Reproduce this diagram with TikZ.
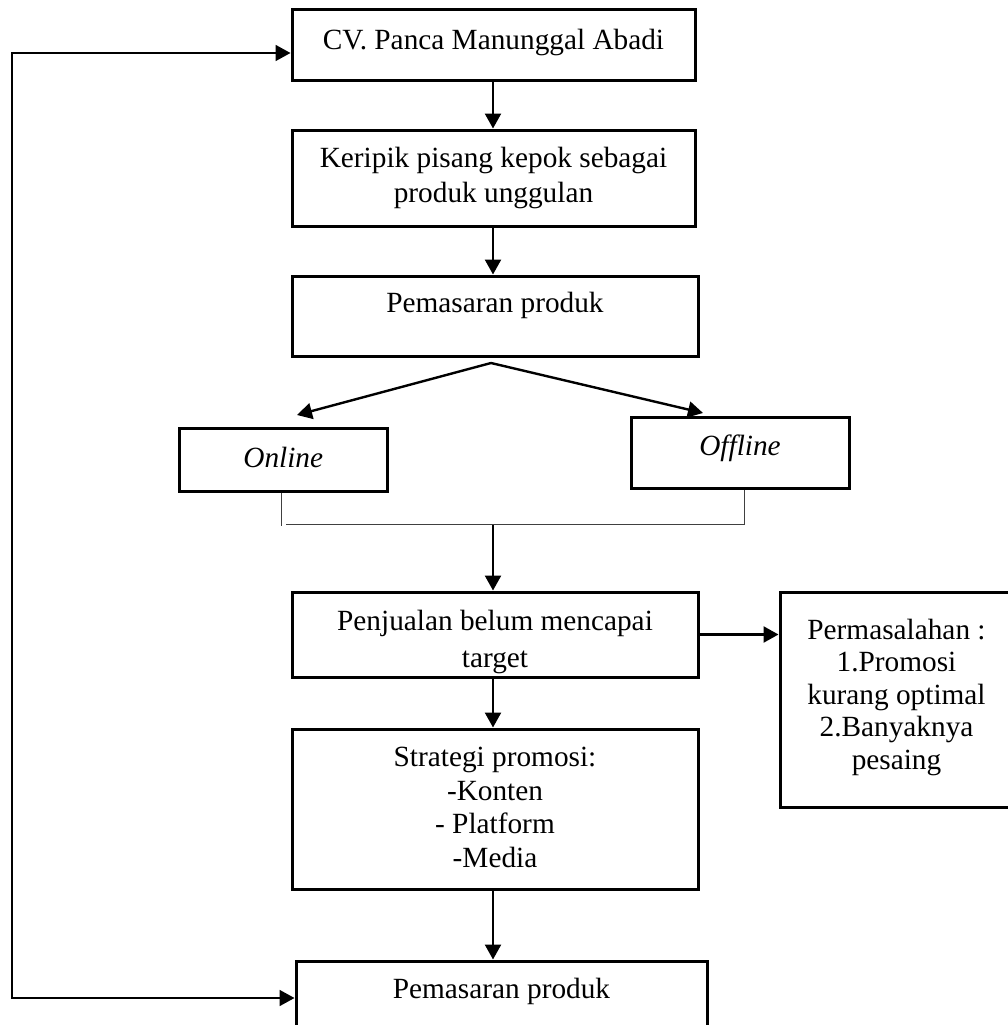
\documentclass[tikz,border=0pt]{standalone}
\usepackage{fontspec}
\setmainfont{Liberation Serif}
\usetikzlibrary{arrows.meta}

\begin{document}
\begin{tikzpicture}[x=1pt, y=-1pt,
  block/.style = {shape=rectangle, sharp corners,
    draw, line width=3pt, align=center, inner sep=0pt,
    font=\fontsize{29.3}{33.5}\selectfont},
  arrow/.style = {line width=2.4pt, -{Triangle[length=15pt,width=16pt]}},
  joint/.style = {line width=1pt, black!75}]
  \useasboundingbox (0,0) rectangle (1008,1025);
  % main column
  \node[block, minimum width=403pt, text height=39pt, text depth=31pt]
    (cv) at (493.5,45) {CV. Panca Manunggal Abadi};
  \node[block, minimum width=403pt, text height=72pt, text depth=24pt]
    (keripik) at (493.5,178) {Keripik pisang kepok sebagai\\[1.5pt]produk unggulan};
  \node[block, minimum width=406pt, text height=36pt, text depth=44pt]
    (pasar) at (495,316) {Pemasaran produk};
  \node[block, minimum width=208pt, text height=39pt, text depth=24pt]
    (online) at (283.25,459.5) {\itshape Online};
  \node[block, minimum width=218pt, text height=38pt, text depth=33pt]
    (offline) at (740,452.5) {\itshape Offline};
  \node[block, minimum width=406pt, text height=75pt, text depth=10pt]
    (jual) at (495,634.5) {Penjualan belum mencapai\\[3.5pt]target};
  \node[block, minimum width=233pt, text height=177pt, text depth=38pt]
    (masalah) at (896.5,699.5) {Permasalahan :\\[-1pt]1.Promosi\\[-1pt]kurang optimal\\[-1pt]2.Banyaknya\\[-1pt]pesaing};
  \node[block, minimum width=406pt, text height=138pt, text depth=22pt]
    (strategi) at (495,809) {Strategi promosi:\\-Konten\\- Platform\\-Media};
  \node[block, minimum width=411pt, text height=37pt, text depth=48pt]
    (pasar2) at (501.5,1003.5) {Pemasaran produk};
  % helper points
  \coordinate (axis) at (493,0);
  \coordinate (split) at (491,363);
  \coordinate (onlinetip) at (297,415);
  \coordinate (offlinetip) at (703,413);
  \coordinate (joinL) at (281,525.5);
  \coordinate (joinR) at (744,524.5);
  \coordinate (joinM) at (493,525);
  \coordinate (loopTop) at (12,53);
  \coordinate (loopBot) at (12,998);
  % connectors
  \draw[arrow] (cv.south -| axis) -- (keripik.north -| axis);
  \draw[arrow] (keripik.south -| axis) -- (pasar.north -| axis);
  \draw[arrow] (split) -- (onlinetip);
  \draw[arrow] (split) -- (offlinetip);
  \draw[joint] (online.south -| joinL) -- (joinL);
  \draw[joint] (joinR) -- (joinR -| 286,0);
  \draw[joint] (joinR) -- (offline.south -| joinR);
  \draw[arrow] (joinM) -- (jual.north -| joinM);
  \draw[arrow] (jual.east) -- (jual.east -| masalah.west);
  \draw[arrow] (jual.south -| axis) -- (strategi.north -| axis);
  \draw[arrow] (strategi.south -| axis) -- (pasar2.north -| axis);
  \draw[line width=1.8pt, {Triangle[length=15pt,width=16pt]}-{Triangle[length=15pt,width=16pt]}]
    (cv.west |- loopTop) -- (loopTop) -- (loopBot) -- (pasar2.west |- loopBot);
\end{tikzpicture}
\end{document}
